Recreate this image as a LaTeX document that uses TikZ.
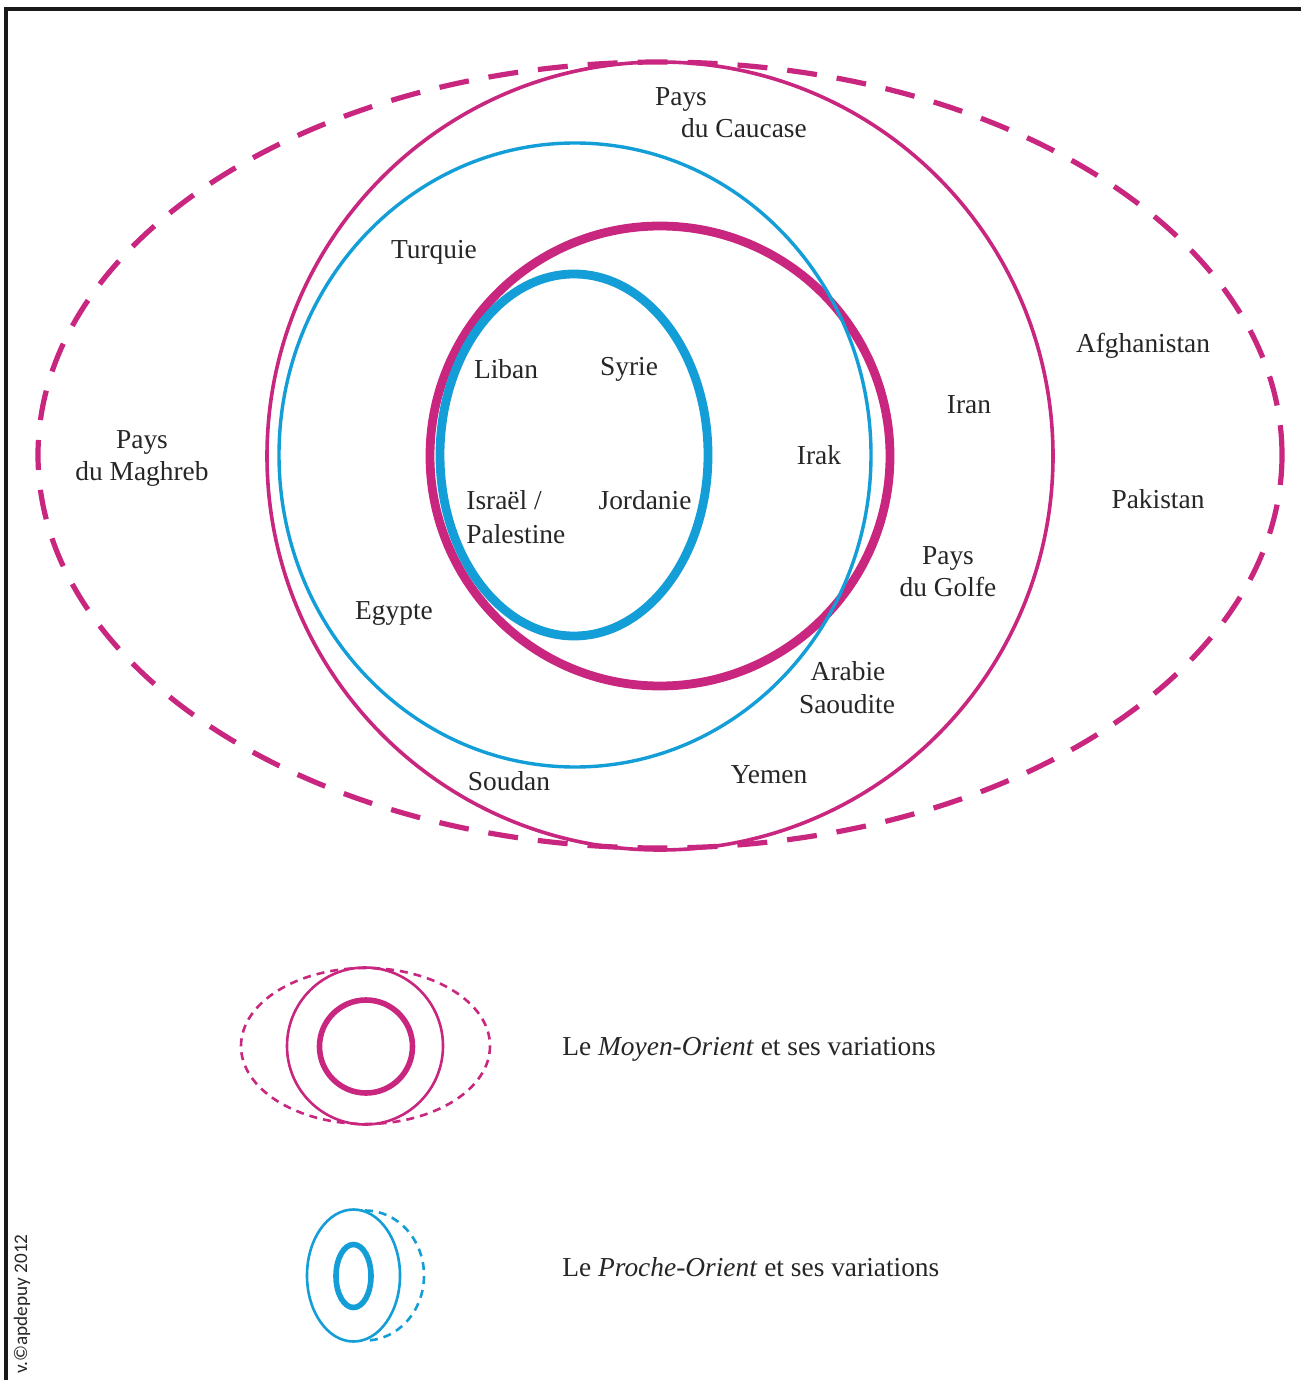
\documentclass[tikz,border=0pt]{standalone}
\usepackage{fontspec}
\setmainfont{Liberation Serif}
\setsansfont{Carlito}
\definecolor{mag}{RGB}{200,38,127}
\definecolor{cya}{RGB}{20,158,215}
\begin{document}
\begin{tikzpicture}[x=0.5pt,y=-0.5pt,
  lbl/.style={inner sep=0pt,yshift=-1.5pt,text height=0.66em,text depth=0pt,font=\fontsize{13.7pt}{16pt}\selectfont,text=black!85},
  thinmag/.style={draw=mag,line width=1.8pt},
  thickmag/.style={draw=mag,line width=4.4pt},
  thincya/.style={draw=cya,line width=1.7pt},
  thickcya/.style={draw=cya,line width=4.4pt},
  dashmag/.style={draw=mag,line width=2.6pt,dash pattern=on 15pt off 10pt},
  ldashmag/.style={draw=mag,line width=1.3pt,dash pattern=on 4pt off 3pt},
  ldashcya/.style={draw=cya,line width=1.3pt,dash pattern=on 4pt off 3pt},
  lthinmag/.style={draw=mag,line width=1.3pt},
  lthickmag/.style={draw=mag,line width=2.8pt},
  lthincya/.style={draw=cya,line width=1.3pt},
  lthickcya/.style={draw=cya,line width=2.8pt}]
\useasboundingbox (0,0) rectangle (1301,1380);
\fill[white] (0,0) rectangle (1301,1380);
% frame
\draw[line width=1.6pt,black!90] (6,1380) -- (6,9) -- (1301,9);
% main diagram
\draw[dashmag] (660,455) ellipse [x radius=622,y radius=393];
\draw[thinmag] (660,456) ellipse [x radius=393,y radius=394];
\draw[thickmag] (660,456) ellipse [x radius=230,y radius=230];
\draw[thincya] (575,455) ellipse [x radius=296,y radius=312];
\draw[thickcya] (574,455) ellipse [x radius=134,y radius=181];
% labels
\node[lbl] (caucase1) at (681,96) {Pays};
\node[lbl] (caucase2) at (744,128) {du Caucase};
\node[lbl] (turquie) at (434,249) {Turquie};
\node[lbl] (afgh) at (1143,343) {Afghanistan};
\node[lbl] (iran) at (969,404) {Iran};
\node[lbl] (liban) at (506,369) {Liban};
\node[lbl] (syrie) at (629,366) {Syrie};
\node[lbl] (irak) at (819,455) {Irak};
\node[lbl] (magh1) at (142,439) {Pays};
\node[lbl] (magh2) at (142,471) {du Maghreb};
\node[lbl] (pak) at (1158,499) {Pakistan};
\node[lbl,anchor=west] (isr1) at (466,500) {Israël /};
\node[lbl,anchor=west] (isr2) at (466,534) {Palestine};
\node[lbl] (jord) at (645,500) {Jordanie};
\node[lbl] (golfe1) at (948,555) {Pays};
\node[lbl] (golfe2) at (948,587) {du Golfe};
\node[lbl] (egypte) at (394,610) {Egypte};
\node[lbl] (arab1) at (848,671) {Arabie};
\node[lbl] (arab2) at (847,704) {Saoudite};
\node[lbl] (yemen) at (769,774) {Yemen};
\node[lbl] (soudan) at (509,781) {Soudan};
% legend 1
\draw[ldashmag] (365.5,1046) ellipse [x radius=124.5,y radius=78];
\draw[lthinmag] (365,1046) ellipse [x radius=78,y radius=78.5];
\draw[lthickmag] (366,1046.5) ellipse [x radius=46.5,y radius=46.5];
\node[lbl,anchor=west] (leg1) at (562,1046) {Le \textit{Moyen-Orient} et ses variations};
% legend 2
\draw[ldashcya] (365,1210.5) arc [start angle=-90,end angle=90,x radius=59,y radius=65];
\draw[lthincya] (353.5,1275.5) ellipse [x radius=46.5,y radius=66];
\draw[lthickcya] (353.5,1276) ellipse [x radius=17.5,y radius=31.5];
\node[lbl,anchor=west] (leg2) at (562,1267) {Le \textit{Proche-Orient} et ses variations};
% copyright
\node[rotate=90,inner sep=0pt,font=\sffamily\fontsize{9.6pt}{11pt}\selectfont,text=black!85] (copy) at (22,1304) {v.©apdepuy 2012};
\end{tikzpicture}
\end{document}
